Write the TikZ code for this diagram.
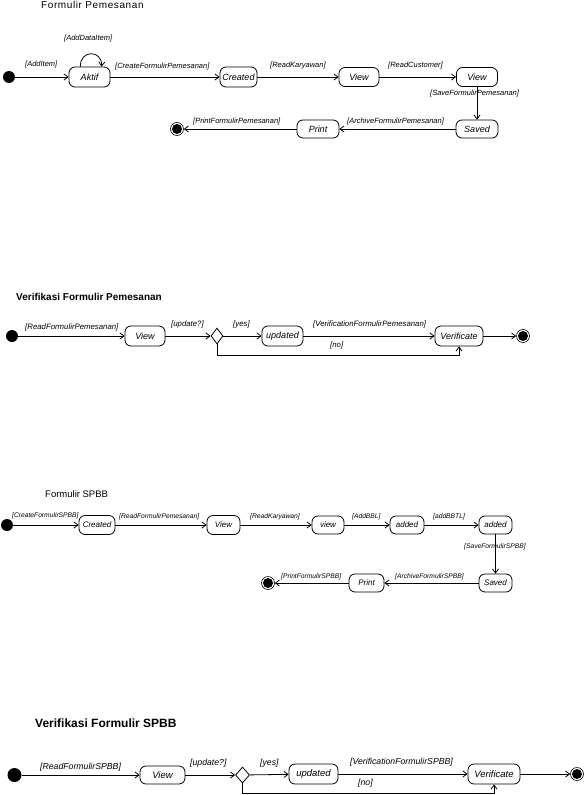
\documentclass[tikz,border=0pt]{standalone}
\usepackage{fontspec}
\setmainfont{Liberation Sans}
\usetikzlibrary{arrows.meta,shapes.geometric}
\tikzset{
  arr/.style={draw, line width=0.8pt, -{Straight Barb[length=4pt,width=6pt]}},
  st/.style={draw, line width=0.8pt, rounded corners=6pt, inner sep=0pt, font=\fontsize{9}{10}\selectfont\itshape},
  st3/.style={st, font=\fontsize{8}{9}\selectfont\itshape},
  st4/.style={st, font=\fontsize{9.5}{10}\selectfont\itshape},
  initst/.style={circle, fill=black, minimum size=12pt, inner sep=0pt},
  finst/.style={circle, draw, line width=0.6pt, minimum size=13pt, inner sep=0pt,
    path picture={\fill[black] (path picture bounding box.center) circle (5pt);}},
  dia/.style={diamond, draw, line width=0.8pt, minimum width=12pt, minimum height=16pt, inner sep=0pt, aspect=0.75},
  lbl/.style={anchor=west, inner sep=0pt, font=\fontsize{7.5}{8}\selectfont\itshape},
  lbl2/.style={lbl, font=\fontsize{7.8}{8}\selectfont\itshape},
  lbl3/.style={lbl, font=\fontsize{6.7}{7}\selectfont\itshape},
  lbl4/.style={lbl, font=\fontsize{8.7}{9}\selectfont\itshape},
  ttl/.style={anchor=base west, inner sep=0pt}
}
\begin{document}
\begin{tikzpicture}[x=1pt,y=-1pt]
\useasboundingbox (0,0) rectangle (585,795);

% ---------- Formulir Pemesanan ----------
\node[ttl, font=\fontsize{10}{11}\selectfont\addfontfeature{LetterSpace=6}] (t1) at (41,9) {Formulir Pemesanan};
\node[initst] (i1) at (9,77) {};
\node[st, minimum width=41pt, minimum height=20pt] (aktif) at (89.5,77) {Aktif};
\node[st, minimum width=37pt, minimum height=20pt] (created1) at (238.5,77) {Created};
\node[st, minimum width=40pt, minimum height=19pt] (view1a) at (359,77) {View};
\node[st, minimum width=41pt, minimum height=19pt] (view1b) at (477,77) {View};
\node[st, minimum width=42pt, minimum height=18pt] (saved1) at (477,129) {Saved};
\node[st, minimum width=42pt, minimum height=18pt] (print1) at (318,129) {Print};
\node[finst] (f1) at (177,129) {};

\draw[arr] (i1) -- (aktif);
\draw[arr] ([xshift=-9pt]aktif.north) .. controls ([xshift=-10pt,yshift=17pt]aktif.north) and ([xshift=13pt,yshift=17pt]aktif.north) .. ([xshift=12pt]aktif.north);
\draw[arr] (aktif) -- (created1);
\draw[arr] (created1) -- (view1a);
\draw[arr] (view1a) -- (view1b);
\draw[arr] (view1b) -- (saved1);
\draw[arr] (saved1) -- (print1);
\draw[arr] (print1) -- (f1);

\node[lbl] (l1a) at (25,65) {[AddItem]};
\node[lbl] (l1b) at (64,39) {[AddDataItem]};
\node[lbl] (l1c) at (115,67) {[CreateFormulirPemesanan]};
\node[lbl] (l1d) at (270,66) {[ReadKaryawan]};
\node[lbl] (l1e) at (388,66) {[ReadCustomer]};
\node[lbl] (l1f) at (430,94) {[SaveFormulirPemesanan]};
\node[lbl] (l1g) at (347,122) {[ArchiveFormulirPemesanan]};
\node[lbl] (l1h) at (193,122) {[PrintFormulirPemesanan]};

% ---------- Verifikasi Formulir Pemesanan ----------
\node[ttl, font=\fontsize{10}{11}\selectfont\bfseries] (t2) at (16,300) {Verifikasi Formulir Pemesanan};
\node[initst] (i2) at (12,336) {};
\node[st, minimum width=40pt, minimum height=20pt] (view2) at (145,336) {View};
\node[dia] (d2) at (217,336) {};
\node[st, minimum width=41pt, minimum height=20pt] (upd2) at (282.5,336) {updated};
\node[st, minimum width=48pt, minimum height=20pt] (ver2) at (459,336) {Verificate};
\node[finst] (f2) at (523,336) {};
\coordinate (no2) at (217,355);

\draw[arr] (i2) -- (view2);
\draw[arr] (view2) -- (d2);
\draw[arr] (d2) -- (upd2);
\draw[arr] (upd2) -- (ver2);
\draw[arr] (ver2) -- (f2);
\draw[arr] (d2.south) -- (no2) -| (ver2.south);

\node[lbl2] (l2a) at (25,327) {[ReadFormulirPemesanan]};
\node[lbl2] (l2b) at (171,324) {[update?]};
\node[lbl2] (l2c) at (233,324) {[yes]};
\node[lbl2] (l2d) at (313,324) {[VerificationFormulirPemesanan]};
\node[lbl2] (l2e) at (330,345) {[no]};

% ---------- Formulir SPBB ----------
\node[ttl, font=\fontsize{9.5}{10}\selectfont] (t3) at (45,497) {Formulir SPBB};
\node[initst] (i3) at (7,525) {};
\node[st3, minimum width=36pt, minimum height=19pt] (created3) at (97,525) {Created};
\node[st3, minimum width=33pt, minimum height=19pt] (view3a) at (223.5,525) {View};
\node[st3, minimum width=32pt, minimum height=18pt] (view3b) at (328,525) {view};
\node[st3, minimum width=34pt, minimum height=18pt] (add3a) at (407,525) {added};
\node[st3, minimum width=33pt, minimum height=18pt] (add3b) at (495.5,525) {added};
\node[st3, minimum width=33pt, minimum height=18pt] (saved3) at (495.5,583) {Saved};
\node[st3, minimum width=35pt, minimum height=18pt] (print3) at (366.5,583) {Print};
\node[finst] (f3) at (268,583) {};

\draw[arr] (i3) -- (created3);
\draw[arr] (created3) -- (view3a);
\draw[arr] (view3a) -- (view3b);
\draw[arr] (view3b) -- (add3a);
\draw[arr] (add3a) -- (add3b);
\draw[arr] (add3b) -- (saved3);
\draw[arr] (saved3) -- (print3);
\draw[arr] (print3) -- (f3);

\node[lbl3] (l3a) at (12,516) {[CreateFormulirSPBB]};
\node[lbl3] (l3b) at (119,517) {[ReadFormulirPemesanan]};
\node[lbl3] (l3c) at (250,517) {[ReadKaryawan]};
\node[lbl3] (l3d) at (352,517) {[AddBBL]};
\node[lbl3] (l3e) at (433,517) {[addBBTL]};
\node[lbl3] (l3f) at (464,547) {[SaveFormulirSPBB]};
\node[lbl3] (l3g) at (395,577) {[ArchiveFormulirSPBB]};
\node[lbl3] (l3h) at (281,577) {[PrintFormulirSPBB]};

% ---------- Verifikasi Formulir SPBB ----------
\node[ttl, font=\fontsize{12}{13}\selectfont\bfseries] (t4) at (35,727) {Verifikasi Formulir SPBB};
\node[initst, minimum size=14pt] (i4) at (14.5,775) {};
\node[st4, minimum width=45pt, minimum height=18pt] (view4) at (162.5,775) {View};
\node[dia, minimum width=14pt, minimum height=16pt] (d4) at (242.5,775) {};
\node[st4, minimum width=49pt, minimum height=20pt] (upd4) at (313.5,774) {updated};
\node[st4, minimum width=52pt, minimum height=20pt] (ver4) at (494,774) {Verificate};
\node[finst] (f4) at (577,774) {};
\coordinate (no4) at (242.5,793);

\draw[arr] (i4) -- (view4);
\draw[arr] (view4) -- (d4);
\draw[arr] (d4) -- (upd4);
\draw[arr] (upd4) -- (ver4);
\draw[arr] (ver4) -- (f4);
\draw[arr] (d4.south) -- (no4) -| (ver4.south);

\node[lbl4] (l4a) at (40,767) {[ReadFormulirSPBB]};
\node[lbl4] (l4b) at (190,763) {[update?]};
\node[lbl4] (l4c) at (260,763) {[yes]};
\node[lbl4] (l4d) at (350,762) {[VerificationFormulirSPBB]};
\node[lbl4] (l4e) at (358,783) {[no]};
\end{tikzpicture}
\end{document}
